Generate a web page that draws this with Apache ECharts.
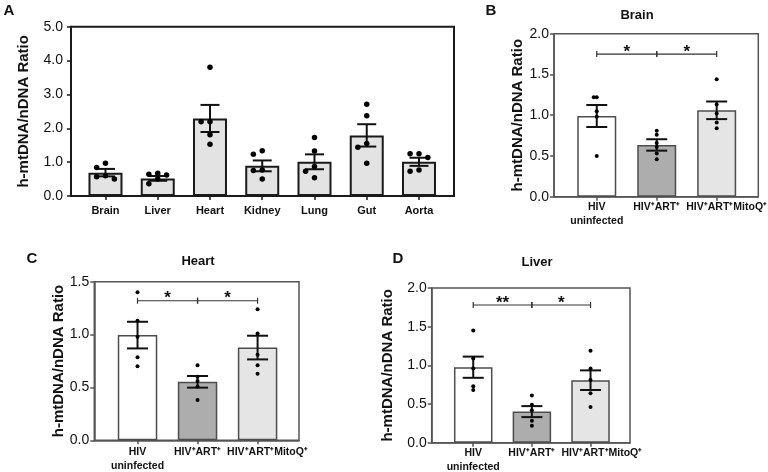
<!DOCTYPE html>
<html>
<head>
<meta charset="utf-8">
<script src="https://cdn.jsdelivr.net/npm/echarts@6/dist/echarts.min.js"></script>
<style>html,body{margin:0;padding:0;background:#fff;}#c{width:768px;height:472px;}</style>
</head>
<body>
<div id="c"></div>
<script>
// ---------- DATA ----------
const aCats = ['Brain', 'Liver', 'Heart', 'Kidney', 'Lung', 'Gut', 'Aorta'];
const aMeans = [0.69, 0.52, 2.29, 0.89, 1.01, 1.79, 1.01];
const aSems = [0.11, 0.07, 0.40, 0.16, 0.22, 0.33, 0.12];
const aPoints = [
  [0.97, 0.84, 0.60, 0.57, 0.50],
  [0.67, 0.64, 0.62, 0.50, 0.36],
  [3.80, 2.19, 2.19, 1.81, 1.53],
  [1.34, 1.23, 0.77, 0.75, 0.50],
  [1.73, 1.33, 0.87, 0.73, 0.54],
  [2.71, 2.37, 1.55, 1.44, 0.97],
  [1.25, 1.25, 1.14, 0.77, 0.73]
];

const groupCats = ['HIV\nuninfected', 'HIV\u207AART\u207A', 'HIV\u207AART\u207AMitoQ\u207A'];

const brainMeans = [0.99, 0.635, 1.06];
const brainSems = [0.135, 0.07, 0.108];
const brainPoints = [
  [1.22, 1.22, 1.05, 0.98, 0.50],
  [0.81, 0.76, 0.66, 0.61, 0.53, 0.46],
  [1.44, 1.13, 1.02, 0.91, 0.84]
];
const brainSig = [[0, 1, 1.75, '*'], [1, 2, 1.75, '*']];

const heartMeans = [0.995, 0.553, 0.877];
const heartSems = [0.126, 0.055, 0.112];
const heartPoints = [
  [1.40, 1.13, 0.98, 0.785, 0.70],
  [0.71, 0.60, 0.56, 0.51, 0.38],
  [1.24, 1.01, 0.81, 0.71, 0.63]
];
const heartSig = [[0, 1, 1.32, '*'], [1, 2, 1.32, '*']];

const liverMeans = [0.976, 0.402, 0.808];
const liverSems = [0.137, 0.071, 0.127];
const liverPoints = [
  [1.45, 1.09, 0.96, 0.73, 0.68],
  [0.61, 0.49, 0.42, 0.285, 0.22],
  [1.19, 0.96, 0.81, 0.64, 0.46]
];
const liverSig = [[0, 1, 1.78, '**'], [1, 2, 1.78, '*']];

// ---------- STYLE / LAYOUT ----------
const FONT = '"Liberation Sans", Arial, Helvetica, sans-serif';
const groupColors = ['#ffffff', '#adadad', '#e5e5e5'];
const yName = 'h-mtDNA/nDNA Ratio';

const mctx = document.createElement('canvas').getContext('2d');
function textWidth(t, font) {
  mctx.font = font;
  return Math.max.apply(null, t.split('\n').map(s => mctx.measureText(s).width));
}

function swarm(vals, step, thr) {
  const placed = [];
  return vals.map(v => {
    const cands = [0, -step, step, -2 * step, 2 * step];
    for (const o of cands) {
      if (!placed.some(p => p.o === o && Math.abs(p.v - v) < thr)) {
        placed.push({ o, v });
        return o;
      }
    }
    return 0;
  });
}

const panels = [
  { cats: aCats, means: aMeans, sems: aSems, pts: aPoints, sig: [],
    grid: { left: 71, top: 26.7, width: 383, height: 169.3 },
    xmin: -0.66, xmax: 6.67, ymax: 5, yint: 1,
    colors: aCats.map(() => '#e3e3e3'), border: '#1a1a1a', bw: 2, frame: '#1a1a1a', fw: 2, labelFont: 'bold 11px ' + FONT,
    barW: 34, cap: 9.5, dot: 5.5, step: 0.17, thr: 0.15, tickFont: 14, nameGap: 40, labelTop: 7.5, yMargin: 8 },
  { cats: groupCats, means: brainMeans, sems: brainSems, pts: brainPoints, sig: brainSig,
    grid: { left: 554, top: 33.7, width: 204.3, height: 163 },
    xmin: -0.713, xmax: 2.694, ymax: 2, yint: 0.5,
    colors: groupColors, border: '#4d4d4d', bw: 1.5, frame: '#555', fw: 1.5, labelFont: 'bold 10.5px ' + FONT,
    barW: 39, cap: 10.5, dot: 4, step: 0.05, thr: 0.04, tickFont: 14, nameGap: 27, labelTop: 3.5, yMargin: 5 },
  { cats: groupCats, means: heartMeans, sems: heartSems, pts: heartPoints, sig: heartSig,
    grid: { left: 94.3, top: 281.7, width: 204.7, height: 158.6 },
    xmin: -0.72, xmax: 2.69, ymax: 1.5, yint: 0.5,
    colors: groupColors, border: '#4d4d4d', bw: 1.5, frame: '#555', fw: 1.5, labelFont: 'bold 10.5px ' + FONT,
    barW: 39.5, cap: 10.5, dot: 4, step: 0.05, thr: 0.03, tickFont: 14, nameGap: 27, labelTop: 5, yMargin: 5 },
  { cats: groupCats, means: liverMeans, sems: liverSems, pts: liverPoints, sig: liverSig,
    grid: { left: 431.7, top: 288, width: 198.3, height: 154.7 },
    xmin: -0.708, xmax: 2.673, ymax: 2, yint: 0.5,
    colors: groupColors, border: '#4d4d4d', bw: 1.5, frame: '#555', fw: 1.5, labelFont: 'bold 10.5px ' + FONT,
    barW: 38.5, cap: 10.5, dot: 4, step: 0.05, thr: 0.04, tickFont: 14, nameGap: 36, labelTop: 3.5, yMargin: 5 }
];

const grids = [], xAxes = [], yAxes = [], series = [];

panels.forEach((p, k) => {
  grids.push(Object.assign({ show: true, borderColor: p.frame, borderWidth: p.fw, backgroundColor: 'transparent' }, p.grid));
  const idx = p.cats.map((c, i) => i);
  xAxes.push({
    type: 'value', gridIndex: k, min: p.xmin, max: p.xmax,
    splitLine: { show: false },
    axisLine: { show: true, onZero: false, lineStyle: { color: p.frame, width: p.fw } },
    axisTick: { show: true, customValues: idx, length: 4, lineStyle: { color: p.frame, width: 1.5 } },
    axisLabel: { show: false }
  });
  yAxes.push({
    type: 'value', gridIndex: k, min: 0, max: p.ymax, interval: p.yint,
    splitLine: { show: false },
    axisLine: { show: true, onZero: false, lineStyle: { color: p.frame, width: p.fw } },
    axisTick: { show: true, length: 4, lineStyle: { color: p.frame, width: 1.5 } },
    axisLabel: { formatter: v => v.toFixed(1), fontFamily: FONT, fontSize: p.tickFont, color: '#111', margin: p.yMargin },
    name: yName, nameLocation: 'middle', nameRotate: 90, nameGap: p.nameGap,
    nameTextStyle: { fontFamily: FONT, fontWeight: 'bold', fontSize: 15, color: '#111' }
  });

  series.push({
    type: 'bar', xAxisIndex: k, yAxisIndex: k, barWidth: p.barW, z: 2,
    itemStyle: { borderColor: p.border, borderWidth: p.bw },
    data: p.means.map((m, i) => ({ value: [i, m], itemStyle: { color: p.colors[i] } })),
    animation: false
  });

  series.push({
    type: 'custom', xAxisIndex: k, yAxisIndex: k, z: 3, animation: false,
    encode: { x: 0, y: 1 },
    data: p.means.map((m, i) => [i, m, p.sems[i]]),
    renderItem: (params, api) => {
      const x = api.value(0), m = api.value(1), s = api.value(2);
      const t = api.coord([x, m + s]), b = api.coord([x, m - s]);
      const st = { stroke: '#111', lineWidth: 2, fill: null };
      return { type: 'group', children: [
        { type: 'line', shape: { x1: t[0], y1: t[1], x2: b[0], y2: b[1] }, style: st },
        { type: 'line', shape: { x1: t[0] - p.cap, y1: t[1], x2: t[0] + p.cap, y2: t[1] }, style: st },
        { type: 'line', shape: { x1: b[0] - p.cap, y1: b[1], x2: b[0] + p.cap, y2: b[1] }, style: st }
      ] };
    }
  });

  // category labels under the axis, positioned through the axis scale, nudged right to avoid overlap
  series.push({
    type: 'custom', xAxisIndex: k, yAxisIndex: k, z: 5, animation: false, clip: false, silent: true,
    encode: { x: 0, y: 1 },
    data: idx.map(i => [i, 0]),
    renderItem: (params, api) => {
      const gap = 6;
      let prevRight = -Infinity, cx = 0, cy = 0;
      for (let j = 0; j <= params.dataIndex; j++) {
        const c = api.coord([j, 0]);
        const w = textWidth(p.cats[j], p.labelFont);
        const left = Math.max(c[0] - w / 2, prevRight + gap);
        prevRight = left + w;
        cx = left + w / 2; cy = c[1];
      }
      return { type: 'text', style: { text: p.cats[params.dataIndex], x: cx, y: cy + p.labelTop,
        align: 'center', verticalAlign: 'top', font: p.labelFont, lineHeight: 14, fill: '#111' } };
    }
  });

  const pts = [];
  p.pts.forEach((vals, i) => {
    const offs = swarm(vals, p.step, p.thr);
    vals.forEach((v, j) => pts.push([i + offs[j], v]));
  });
  series.push({
    type: 'scatter', xAxisIndex: k, yAxisIndex: k, z: 4, animation: false,
    symbol: 'circle', symbolSize: p.dot, itemStyle: { color: '#000', opacity: 1 },
    data: pts
  });

  if (p.sig.length) {
    series.push({
      type: 'custom', xAxisIndex: k, yAxisIndex: k, z: 5, animation: false,
      encode: { x: [0, 1], y: 2 },
      data: p.sig.map(s => [s[0], s[1], s[2]]),
      renderItem: (params, api) => {
        const a = api.coord([api.value(0), api.value(2)]);
        const b = api.coord([api.value(1), api.value(2)]);
        const st = { stroke: '#333', lineWidth: 1.2, fill: null };
        const label = p.sig[params.dataIndex][3];
        return { type: 'group', children: [
          { type: 'line', shape: { x1: a[0], y1: a[1], x2: b[0], y2: b[1] }, style: st },
          { type: 'line', shape: { x1: a[0], y1: a[1] - 3, x2: a[0], y2: a[1] + 3 }, style: st },
          { type: 'line', shape: { x1: b[0], y1: b[1] - 3, x2: b[0], y2: b[1] + 3 }, style: st },
          { type: 'text', style: { text: label, x: (a[0] + b[0]) / 2, y: a[1] - 2, align: 'center', verticalAlign: 'middle',
            font: 'bold 17px ' + FONT, fill: '#111' } }
        ] };
      }
    });
  }
});

const texts = [
  ['A', 9, 11, 15], ['B', 491, 11, 15], ['C', 32, 259, 15], ['D', 398, 259, 15],
  ['Brain', 637, 15.5, 13], ['Heart', 198, 261, 13], ['Liver', 537, 262.5, 13]
];

const chart = echarts.init(document.getElementById('c'), null, { renderer: 'canvas' });
chart.setOption({
  animation: false,
  backgroundColor: '#fff',
  grid: grids, xAxis: xAxes, yAxis: yAxes, series: series,
  graphic: texts.map(t => ({
    type: 'text', x: t[1], y: t[2], z: 10,
    style: { text: t[0], align: 'center', verticalAlign: 'middle', font: 'bold ' + t[3] + 'px ' + FONT, fill: '#111' }
  }))
});
</script>
</body>
</html>
